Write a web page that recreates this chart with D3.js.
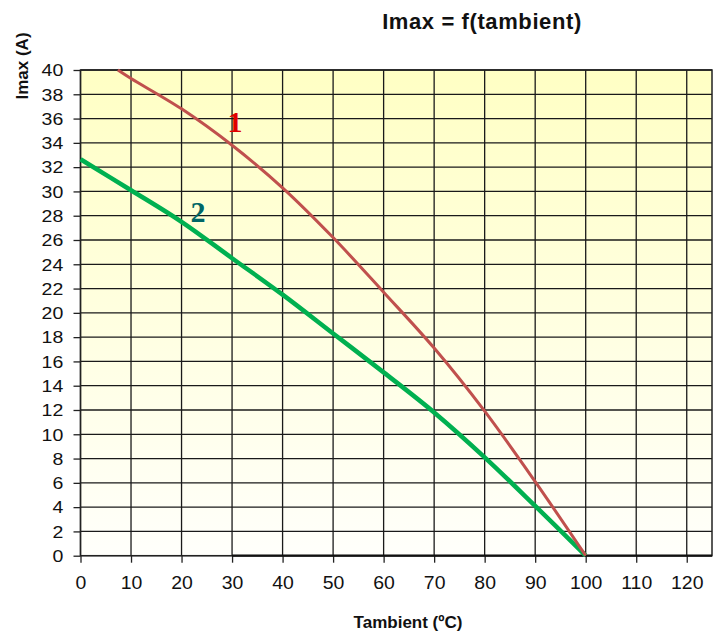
<!DOCTYPE html>
<html><head><meta charset="utf-8">
<script src="https://cdn.jsdelivr.net/npm/d3@7/dist/d3.min.js"></script>
<style>body{margin:0;background:#fff;} svg{display:block;font-family:"Liberation Sans",Arial,sans-serif;}</style>
</head><body>
<svg id="c" width="719" height="633"></svg>
<script>
const xTicks = [0,10,20,30,40,50,60,70,80,90,100,110,120];
const yTicks = d3.range(0, 41, 2);
const tamb1 = [7.4,10,20,30,40,50,60,70,80,90,100];
const imax1 = [40,39.3,36.8,33.8,30.3,26.2,21.7,17.1,11.9,6.1,0];
const tamb2 = [0,10,20,30,40,50,60,70,80,90,100];
const imax2 = [32.65,30.1,27.5,24.5,21.5,18.3,15.1,11.8,8.1,4.1,0];
const zeroT = [30,125];

const svg = d3.select("#c");
const L=80.5, R=712, T=70, B=555.7;
const x = d3.scaleLinear().domain([0,125]).range([L,R]);
const y = d3.scaleLinear().domain([0,40]).range([B,T]);

const defs = svg.append("defs");
const g = defs.append("linearGradient").attr("id","bg").attr("x1",0).attr("y1",0).attr("x2",0).attr("y2",1);
g.append("stop").attr("offset","0%").attr("stop-color","#FFFFC4");
g.append("stop").attr("offset","100%").attr("stop-color","#FFFFFB");

svg.append("rect").attr("x",L).attr("y",T).attr("width",R-L).attr("height",B-T).attr("fill","url(#bg)");

// grid
svg.append("g").selectAll("line").data(yTicks).join("line")
  .attr("x1",L).attr("x2",R).attr("y1",d=>y(d)).attr("y2",d=>y(d))
  .attr("stroke","#1a1a1a").attr("stroke-width",1.3);
svg.append("g").selectAll("line").data(xTicks).join("line")
  .attr("x1",d=>x(d)).attr("x2",d=>x(d)).attr("y1",T).attr("y2",B)
  .attr("stroke","#1a1a1a").attr("stroke-width",1.3);
svg.append("rect").attr("x",L).attr("y",T).attr("width",R-L).attr("height",B-T)
  .attr("fill","none").attr("stroke","#222").attr("stroke-width",1.5);

// axes
const xAxis = d3.axisBottom(x).tickValues(xTicks).tickSize(7).tickPadding(10).tickFormat(d3.format("d"));
const gx = svg.append("g").attr("transform",`translate(0,${B})`).call(xAxis);
gx.select(".domain").remove();
gx.selectAll("line").attr("stroke","#222").attr("stroke-width",1.3);
gx.selectAll("text").attr("font-size",18).attr("fill","#111").attr("dy",null).attr("y",33.5)
  .attr("transform","scale(1.08,1)")
  .attr("font-family","Liberation Sans, Arial, sans-serif");

const yAxis = d3.axisLeft(y).tickValues(yTicks).tickSize(7).tickPadding(10).tickFormat(d3.format("d"));
const gy = svg.append("g").attr("transform",`translate(${L},0)`).call(yAxis);
gy.select(".domain").remove();
gy.selectAll("line").attr("stroke","#222").attr("stroke-width",1.3);
gy.selectAll("text").attr("font-size",16).attr("fill","#111").attr("dy","0.36em")
  .attr("x",-17.2/1.22).attr("transform","scale(1.22,1)")
  .attr("font-family","Liberation Sans, Arial, sans-serif");

// zero series
svg.append("path").attr("fill","none").attr("stroke","#111").attr("stroke-width",2.2)
  .attr("d",d3.line().x(d=>x(d)).y(()=>y(0))(zeroT));

const line = d3.line().curve(d3.curveCatmullRom.alpha(0.5));
svg.append("path").attr("fill","none").attr("stroke","#00B050").attr("stroke-width",4.5)
  .attr("stroke-linejoin","round")
  .attr("d",line(tamb2.map((t,i)=>[x(t),y(imax2[i])])));
svg.append("path").attr("fill","none").attr("stroke","#C0504D").attr("stroke-width",3)
  .attr("stroke-linejoin","round")
  .attr("d",line(tamb1.map((t,i)=>[x(t),y(imax1[i])])));

// curve labels
svg.append("text").attr("x",235).attr("y",132).attr("text-anchor","middle")
  .attr("font-family","Liberation Serif, Times New Roman, serif").attr("font-weight","bold")
  .attr("font-size",30).attr("fill","#E00000").text("1");
svg.append("text").attr("x",198).attr("y",222).attr("text-anchor","middle")
  .attr("font-family","Liberation Serif, Times New Roman, serif").attr("font-weight","bold")
  .attr("font-size",30).attr("fill","#006666").text("2");

// titles
svg.append("text").attr("x",482).attr("y",29).attr("text-anchor","middle")
  .attr("font-weight","bold").attr("font-size",22).attr("letter-spacing",0.6).attr("fill","#111").text("Imax = f(tambient)");
svg.append("text").attr("transform","translate(28,66) rotate(-90)").attr("text-anchor","middle")
  .attr("font-weight","bold").attr("font-size",17).attr("fill","#111").text("Imax (A)");
svg.append("text").attr("x",408).attr("y",628).attr("text-anchor","middle")
  .attr("font-weight","bold").attr("font-size",17).attr("fill","#111").text("Tambient (ºC)");
</script>
</body></html>
